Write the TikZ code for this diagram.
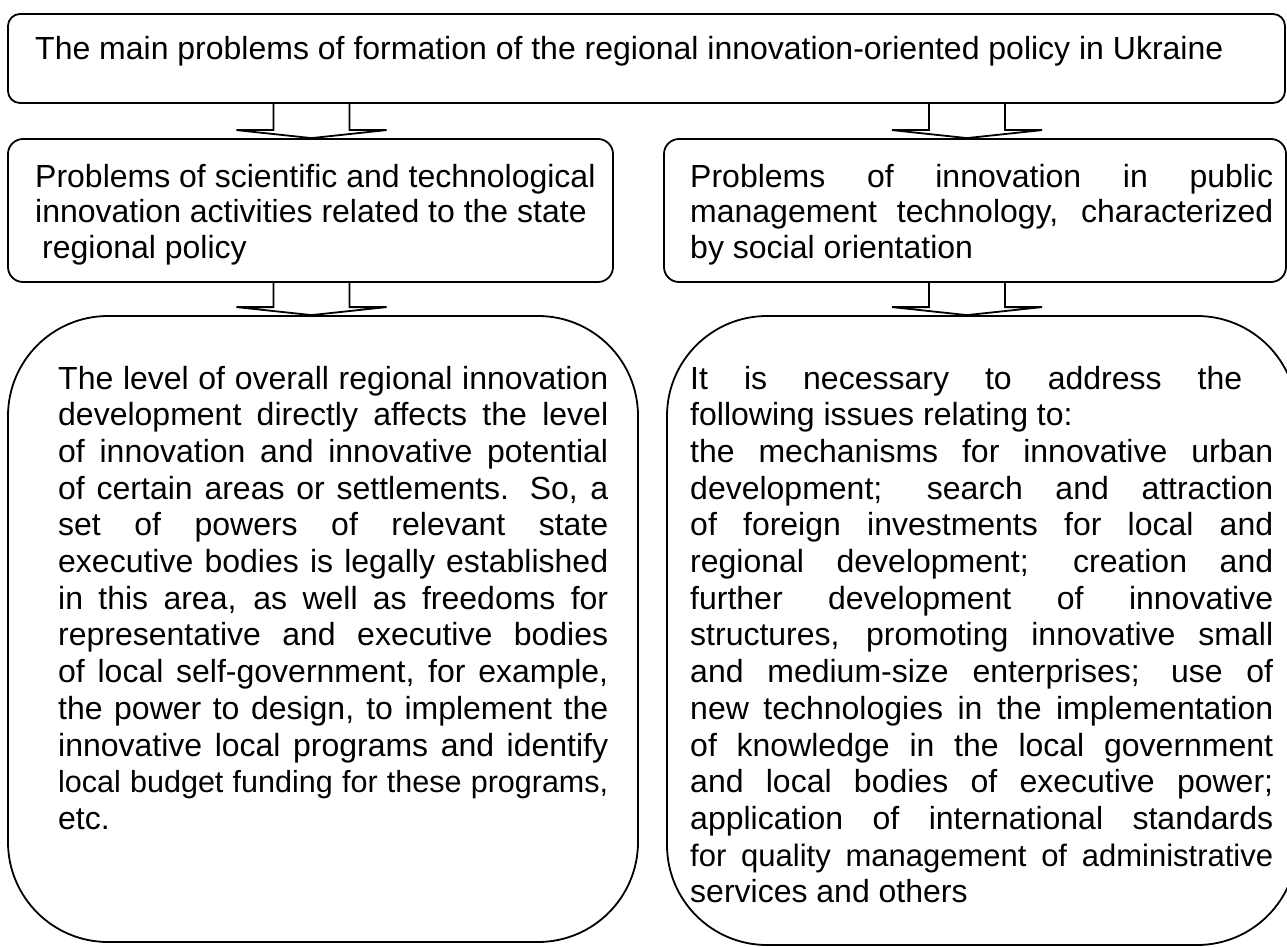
\documentclass[tikz,border=0pt]{standalone}
\usepackage{fontspec}
\setmainfont{Liberation Sans}
\usetikzlibrary{calc}

\tikzset{
  box/.style={draw, line width=1.8pt, rectangle, inner sep=0pt},
  txt/.style={inner sep=0pt, anchor=base west, font=\fontsize{32}{36.7}\selectfont},
  arrowline/.style={line width=1.8pt, line join=miter}
}
% justified line of given width
\newcommand{\jl}[1]{\makebox[\linewidth][s]{#1}}
\newcommand{\jw}[2]{\makebox[#1][s]{#2}}

\begin{document}
\begin{tikzpicture}[x=1pt, y=-1pt]
\useasboundingbox (0,0) rectangle (1287,947);

% Boxes
\node[box, rounded corners=12pt, minimum width=1277pt, minimum height=89pt] (main) at (646.5,58.5) {};
\node[box, rounded corners=15pt, minimum width=605pt, minimum height=143pt] (sci) at (310.5,210.5) {};
\node[box, rounded corners=15pt, minimum width=622pt, minimum height=143pt] (pub) at (975,210.5) {};
\node[box, rounded corners=100pt, minimum width=630pt, minimum height=626pt] (lvl) at (323,629) {};
\node[box, rounded corners=100pt, minimum width=630pt, minimum height=629pt] (iss) at (982,630.5) {};

% Texts
\node[txt] (mainTxt) at (35,60) {The main problems of formation of the regional innovation-oriented policy in Ukraine};

\node[txt] (sciTxt) at (35,187) {\parbox[t]{570pt}{\fontsize{32}{35.5}\selectfont
Problems of scientific and technological\\
innovation activities related to the state\\
\hspace*{7pt}regional policy}};

\node[txt] (pubTxt) at (690,187) {\parbox[t]{583pt}{\fontsize{32}{35.5}\selectfont
\jl{Problems of innovation in public}\\
\jl{management technology, characterized}\\
by social orientation}};

\node[txt] (lvlTxt) at (58,389) {\parbox[t]{550pt}{
\jl{The level of overall regional innovation}\\
\jl{development directly affects the level}\\
\jl{of innovation and innovative potential}\\
\jl{of certain areas or settlements. So, a}\\
\jl{set of powers of relevant state}\\
\jl{executive bodies is legally established}\\
\jl{in this area, as well as freedoms for}\\
\jl{representative and executive bodies}\\
\jl{of local self-government, for example,}\\
\jl{the power to design, to implement the}\\
\jl{innovative local programs and identify}\\
{\fontsize{30.5}{36.7}\selectfont\jl{local budget funding for these programs,}}\\
etc.}};

\node[txt] (issTxt) at (690,389) {\parbox[t]{583pt}{
\jw{552pt}{It is necessary to address the}\\
following issues relating to:\\
\jl{the mechanisms for innovative urban}\\
\jl{development; search and attraction}\\
\jl{of foreign investments for local and}\\
\jl{regional development; creation and}\\
\jl{further development of innovative}\\
\jl{structures, promoting innovative small}\\
\jl{and medium-size enterprises; use of}\\
\jl{new technologies in the implementation}\\
\jl{of knowledge in the local government}\\
\jl{and local bodies of executive power;}\\
\jl{application of international standards}\\
{\fontsize{31}{36.7}\selectfont\jl{for quality management of administrative}}\\
services and others}};

% Arrows
\foreach \name/\from/\to/\cx in {a1/main/sci/311.5, a2/main/pub/967, a3/sci/lvl/311.5, a4/pub/iss/967}{
  \coordinate (\name) at (\cx,0);
  \draw[arrowline] ($(\from.south -| \name)+(-38,0)$) -- ($(\to.north -| \name)+(-38,-8)$)
    -- ($(\to.north -| \name)+(-75,-8)$) -- (\to.north -| \name)
    -- ($(\to.north -| \name)+(75,-8)$) -- ($(\to.north -| \name)+(38,-8)$)
    -- ($(\from.south -| \name)+(38,0)$);
}
\end{tikzpicture}
\end{document}
